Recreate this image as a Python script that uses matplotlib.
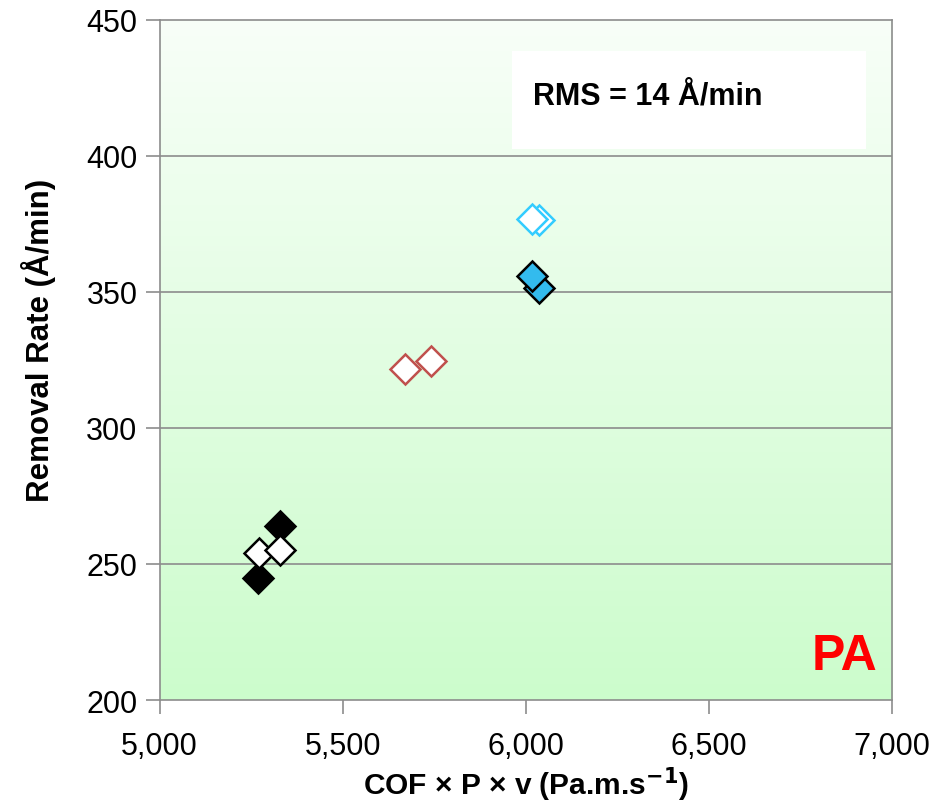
import numpy as np
import matplotlib.pyplot as plt
from matplotlib.colors import LinearSegmentedColormap
from matplotlib.ticker import FuncFormatter

plt.rcParams['font.family'] = ['Liberation Sans', 'DejaVu Sans']

# COF x P x v (Pa.m/s) and removal rate (A/min) per condition group
black_filled_x = [5268, 5328]
black_filled_y = [245, 264]
black_open_x = [5270, 5328]
black_open_y = [254, 255]
red_open_x = [5669, 5740]
red_open_y = [321.5, 324.5]
cyan_open_x = [6018, 6036]
cyan_open_y = [376.8, 376.5]
cyan_filled_x = [6018, 6036]
cyan_filled_y = [356, 351.5]

x_ticks = [5000, 5500, 6000, 6500, 7000]
y_ticks = [200, 250, 300, 350, 400, 450]

fig = plt.figure(figsize=(9.39, 8.03), dpi=100)
ax = fig.add_axes([0.170, 0.127, 0.780, 0.847])
ax.set_xlim(5000, 7000)
ax.set_ylim(200, 450)

# vertical gradient background: pale at top, light green at bottom
cmap = LinearSegmentedColormap.from_list('bg', ['#ccfccc', '#f8fff8'])
grad = np.linspace(0, 1, 256).reshape(-1, 1)
ax.imshow(grad, cmap=cmap, aspect='auto', origin='lower',
          extent=[5000, 7000, 200, 450], zorder=0)

for y in y_ticks[1:-1]:
    ax.axhline(y, color='#8c8c8c', lw=1.2, zorder=1)

# annotation box
ax.add_patch(plt.Rectangle((5962, 402.5), 967, 36, facecolor='white',
                           edgecolor='none', zorder=2))
ax.text(6019, 422, 'RMS = 14 Å/min', fontsize=22, fontweight='bold',
        va='center', ha='left', zorder=3)
ax.text(6959, 216, 'PA', color='#ff0000', fontsize=36, fontweight='bold',
        ha='right', va='center', zorder=3)

ms = 15
mew = 1.8
ax.plot(black_filled_x, black_filled_y, 'D', ms=ms, mfc='black', mec='black',
        mew=mew, zorder=5)
ax.plot(black_open_x, black_open_y, 'D', ms=ms, mfc='white', mec='black',
        mew=mew, zorder=6)
ax.plot(red_open_x, red_open_y, 'D', ms=ms, mfc='white', mec='#c0504d',
        mew=mew, zorder=5)
ax.plot(cyan_open_x[::-1], cyan_open_y[::-1], 'D', ms=ms, mfc='white',
        mec='#33ccff', mew=mew, zorder=5)
ax.plot(cyan_filled_x[::-1], cyan_filled_y[::-1], 'D', ms=ms, mfc='#33bbee',
        mec='black', mew=mew, zorder=5)

for s in ax.spines.values():
    s.set_color('#8c8c8c')
    s.set_linewidth(1.2)

ax.set_xticks(x_ticks)
ax.set_yticks(y_ticks)
ax.xaxis.set_major_formatter(FuncFormatter(lambda v, p: f'{int(v):,}'))
ax.tick_params(axis='both', direction='out', length=10, width=1.2,
               color='#8c8c8c', labelsize=22, pad=6)
ax.tick_params(axis='x', pad=12)

ax.set_xlabel('COF × P × v (Pa.m.s$^{\\mathbf{-1}}$)', fontsize=21.5,
              fontweight='bold', labelpad=3)
ax.set_ylabel('Removal Rate (Å/min)', fontsize=22.5, fontweight='bold',
              labelpad=22)
ax.yaxis.label.set_y(0.53)

fig.savefig('out.png', dpi=100)
